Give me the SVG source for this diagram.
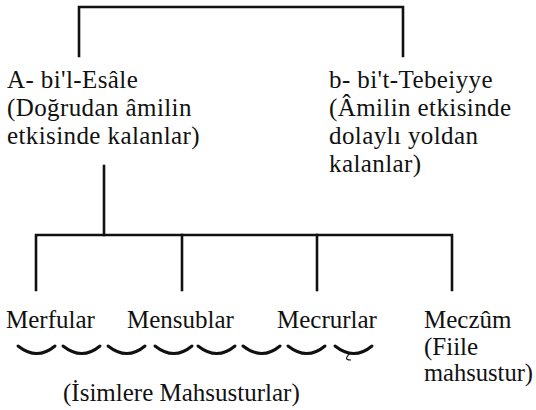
<svg xmlns="http://www.w3.org/2000/svg" width="536" height="410" viewBox="0 0 536 410" font-family="'Liberation Serif', 'Times New Roman', serif">
<style>
text{font-family:"Liberation Serif","Times New Roman",serif;font-size:25px;fill:#111}
.top{letter-spacing:0.4px}
.ln{stroke:#111;stroke-width:2.6;fill:none;stroke-linecap:square}
.arc{stroke:#111;stroke-width:3;fill:none;stroke-linecap:round}
</style>
<rect width="536" height="410" fill="#fff"/>
<g id="connectors">
<path class="ln" d="M79,56 V7 H403 V56"/>
<path class="ln" d="M104,166 V235"/>
<path class="ln" d="M36,290 V235 H452 V290"/>
<path class="ln" d="M182,235 V290"/>
<path class="ln" d="M317,235 V290"/>
</g>
<g id="node-a">
<text class="top" x="7" y="88">A- bi'l-Esâle</text>
<text class="top" x="7" y="116">(Doğrudan âmilin</text>
<text class="top" x="7" y="144">etkisinde kalanlar)</text>
</g>
<g id="node-b">
<text class="top" x="329" y="88">b- bi't-Tebeiyye</text>
<text class="top" x="329" y="116">(Âmilin etkisinde</text>
<text class="top" x="329" y="144">dolaylı yoldan</text>
<text class="top" x="329" y="172">kalanlar)</text>
</g>
<g id="node-merfular"><text x="6" y="328">Merfular</text></g>
<g id="node-mensublar"><text x="127" y="328">Mensublar</text></g>
<g id="node-mecrurlar"><text x="277" y="328">Mecrurlar</text></g>
<g id="node-meczum">
<text x="424" y="328">Meczûm</text>
<text x="424" y="355">(Fiile</text>
<text x="424" y="381" textLength="109" lengthAdjust="spacingAndGlyphs">mahsustur)</text>
</g>
<g id="arcs">
<path class="arc" d="M18,346 Q37,361 55,346"/>
<path class="arc" d="M63,346 Q82,361 100,346"/>
<path class="arc" d="M108,346 Q127,361 145,346"/>
<path class="arc" d="M155,346 Q174,361 192,346"/>
<path class="arc" d="M198,346 Q217,361 235,346"/>
<path class="arc" d="M243,346 Q262,361 280,346"/>
<path class="arc" d="M288,346 Q307,361 325,346"/>
<path class="arc" d="M335,346 Q354,361 372,346"/>
<path d="M349,354 L347,357 Q345,360 351,360" stroke="#111" stroke-width="1.2" fill="none"/>
</g>
<g id="note"><text x="63" y="401">(İsimlere Mahsusturlar)</text></g>
</svg>
